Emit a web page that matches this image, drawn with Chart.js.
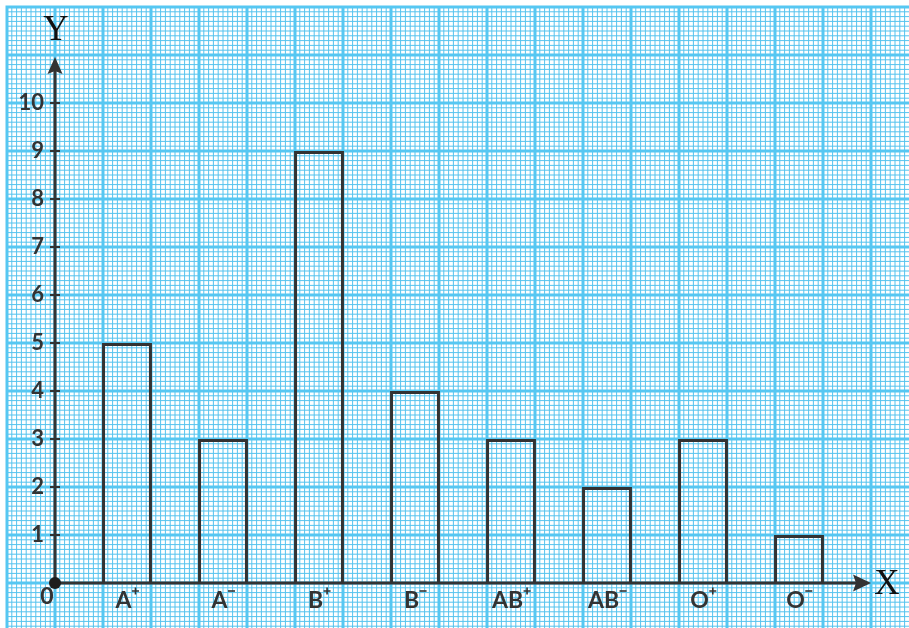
<!DOCTYPE html>
<html>
<head>
<meta charset="utf-8">
<script src="https://cdn.jsdelivr.net/npm/chart.js"></script>
<style>
  html, body { margin: 0; padding: 0; background: #fff; overflow: hidden; }
  canvas { display: block; }
</style>
</head>
<body>
<canvas id="chart" width="909" height="628"></canvas>
<script>
// blood groups and number of students
const groups = ['A+', 'A-', 'B+', 'B-', 'AB+', 'AB-', 'O+', 'O-'];
const counts = [5, 3, 9, 4, 3, 2, 3, 1];
const yTicks = [1, 2, 3, 4, 5, 6, 7, 8, 9, 10];

const ink = '#333333';
const labelFont = 'bold 23px Lato, "Open Sans", sans-serif';

// graph paper + axes drawn around the chart area
const graphPaper = {
    id: 'graphPaper',
    beforeDraw(chart) {
        const { ctx, width, height, chartArea, scales } = chart;
        const y = scales.y;
        const x = scales.x;
        const unit = y.getPixelForValue(0) - y.getPixelForValue(1);
        const catW = x.getPixelForValue(1) - x.getPixelForValue(0);
        const ox = chartArea.left - catW / 4;
        const left = ox - unit;
        const top = chartArea.top - unit;

        ctx.save();
        ctx.fillStyle = '#ffffff';
        ctx.fillRect(0, 0, width, height);

        // minor lines
        ctx.strokeStyle = '#55c3ee';
        ctx.lineWidth = 1;
        ctx.beginPath();
        const minor = unit / 10;
        for (let i = 0; left + i * minor <= width; i++) {
            if (i % 10 === 0) continue;
            const p = left + i * minor;
            ctx.moveTo(p, top);
            ctx.lineTo(p, height);
        }
        for (let i = 0; top + i * minor <= height; i++) {
            if (i % 10 === 0) continue;
            const p = top + i * minor;
            ctx.moveTo(left, p);
            ctx.lineTo(width, p);
        }
        ctx.stroke();

        // major lines
        ctx.strokeStyle = '#56c7f2';
        ctx.lineWidth = 3;
        ctx.beginPath();
        for (let p = left; p <= width + 1; p += unit) {
            ctx.moveTo(p, top - 1.5);
            ctx.lineTo(p, height);
        }
        for (let p = top; p <= height + 1; p += unit) {
            ctx.moveTo(left - 1.5, p);
            ctx.lineTo(width, p);
        }
        ctx.stroke();
        ctx.restore();
    },
    afterDatasetsDraw(chart) {
        const { ctx, chartArea, scales } = chart;
        const y = scales.y;
        const x = scales.x;
        const catW = x.getPixelForValue(1) - x.getPixelForValue(0);
        const ox = chartArea.left - catW / 4;
        const oy = y.getPixelForValue(0);

        ctx.save();
        ctx.strokeStyle = ink;
        ctx.fillStyle = ink;

        // axis lines
        ctx.lineWidth = 3;
        ctx.beginPath();
        ctx.moveTo(ox, oy);
        ctx.lineTo(ox, chartArea.top + 14);
        ctx.moveTo(ox, oy);
        ctx.lineTo(chartArea.right + 10, oy);
        ctx.stroke();

        // arrow heads
        const yTip = chartArea.top + 2;
        ctx.beginPath();
        ctx.moveTo(ox, yTip);
        ctx.lineTo(ox + 7.5, yTip + 17);
        ctx.lineTo(ox, yTip + 14);
        ctx.lineTo(ox - 7.5, yTip + 17);
        ctx.closePath();
        ctx.fill();
        const xTip = chartArea.right + 24;
        ctx.beginPath();
        ctx.moveTo(xTip, oy);
        ctx.lineTo(xTip - 18, oy + 8.5);
        ctx.lineTo(xTip - 15, oy);
        ctx.lineTo(xTip - 18, oy - 8.5);
        ctx.closePath();
        ctx.fill();

        // y tick marks
        ctx.lineWidth = 2;
        ctx.beginPath();
        yTicks.forEach(v => {
            const py = y.getPixelForValue(v);
            ctx.moveTo(ox - 5, py);
            ctx.lineTo(ox + 5, py);
        });
        ctx.stroke();

        // origin dot
        ctx.fillStyle = '#1e1e1e';
        ctx.beginPath();
        ctx.arc(ox, oy, 6, 0, Math.PI * 2);
        ctx.fill();

        // origin label
        ctx.fillStyle = ink;
        ctx.font = labelFont;
        ctx.textAlign = 'center';
        ctx.textBaseline = 'middle';
        ctx.fillText('0', ox - 8, oy + 14);

        // axis letters
        ctx.font = '35px "Liberation Serif", "DejaVu Serif", serif';
        ctx.fillStyle = '#111';
        ctx.fillText('Y', ox + 1, chartArea.top - 24);
        ctx.fillText('X', xTip + 16, oy + 2);

        // category labels with a small superscript sign
        ctx.fillStyle = ink;
        ctx.strokeStyle = ink;
        ctx.lineWidth = 1.6;
        ctx.font = labelFont;
        ctx.textAlign = 'left';
        ctx.textBaseline = 'alphabetic';
        groups.forEach((g, i) => {
            const base = g.slice(0, -1);
            const plus = g.slice(-1) === '+';
            const cx = x.getPixelForValue(i);
            const bw = ctx.measureText(base).width;
            const sw = 7;
            const start = cx - (bw + sw) / 2;
            ctx.fillText(base, start, oy + 25);
            const sx = start + bw + 0.5;
            const sy = oy + 8;
            ctx.beginPath();
            ctx.moveTo(sx, sy);
            ctx.lineTo(sx + sw, sy);
            if (plus) {
                ctx.moveTo(sx + sw / 2, sy - 3.5);
                ctx.lineTo(sx + sw / 2, sy + 3.5);
            }
            ctx.stroke();
        });
        ctx.restore();
    }
};

new Chart(document.getElementById('chart'), {
    type: 'bar',
    data: {
        labels: groups,
        datasets: [{
            data: counts,
            backgroundColor: 'rgba(0,0,0,0)',
            borderColor: ink,
            borderWidth: 3,
            borderSkipped: 'start',
            categoryPercentage: 1,
            barPercentage: 0.52
        }]
    },
    options: {
        responsive: false,
        animation: false,
        events: [],
        layout: { padding: { top: 55, right: 62, left: 0, bottom: 45 } },
        plugins: {
            legend: { display: false },
            tooltip: { enabled: false }
        },
        scales: {
            x: {
                display: false,
                offset: true
            },
            y: {
                min: 0,
                max: 11,
                grid: { display: false, drawTicks: false },
                border: { display: false },
                ticks: {
                    stepSize: 1,
                    padding: 35,
                    color: ink,
                    font: { family: 'Lato, "Open Sans", sans-serif', size: 22, weight: 'bold', lineHeight: 0.8 },
                    callback: v => (yTicks.includes(v) ? String(v) : '')
                },
                afterFit(scale) { scale.width = 79; }
            }
        }
    },
    plugins: [graphPaper]
});
</script>
</body>
</html>
